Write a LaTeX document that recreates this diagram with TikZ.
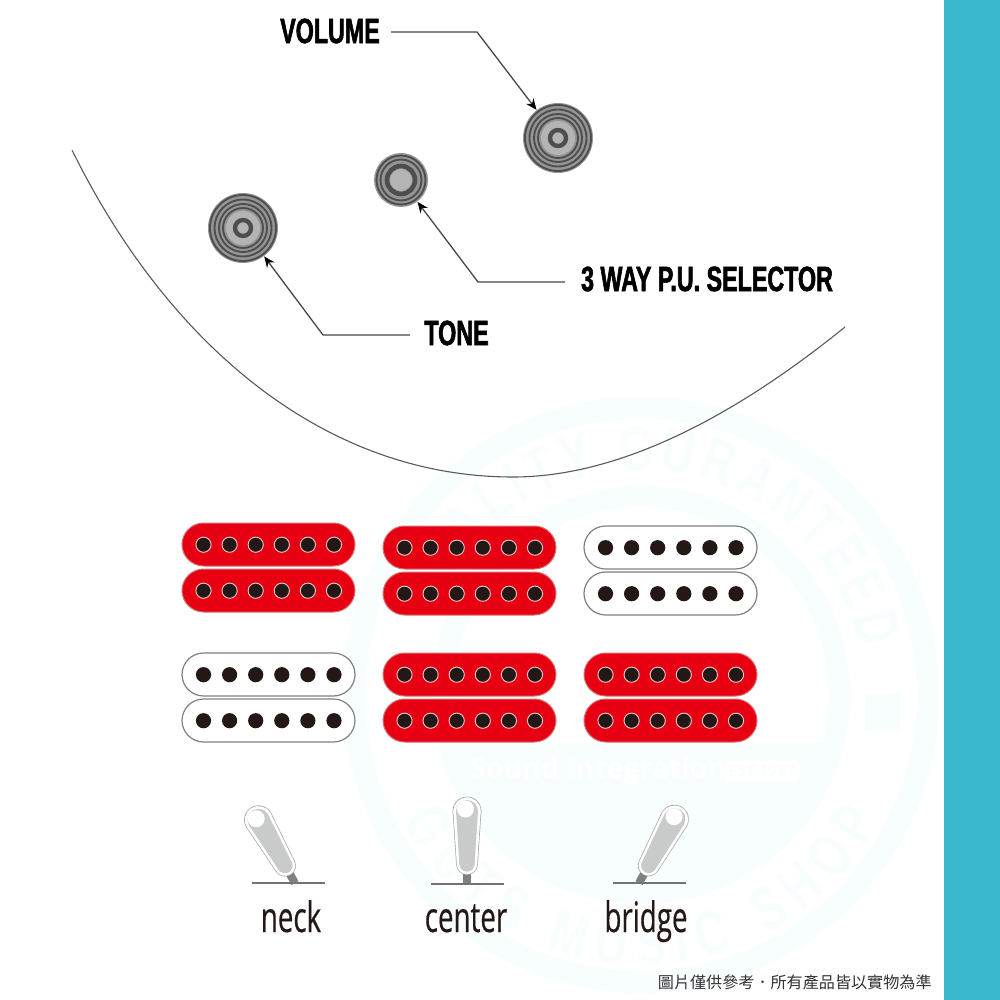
\documentclass[tikz,border=0pt]{standalone}
\usepackage{fontspec}
\usetikzlibrary{arrows.meta,decorations.text}
\newfontfamily\labfont[FakeBold=1.6,FakeStretch=0.665]{Liberation Sans Bold}
\newfontfamily\posfont[FakeBold=0.4,FakeStretch=0.66]{Open Sans}
\newfontfamily\cjkfont{Noto Sans CJK TC}
\newfontfamily\wmfont[FakeStretch=0.72]{Liberation Sans Bold}
\newfontfamily\wmsub{Open Sans}
\definecolor{bar}{HTML}{3CB8CC}
\definecolor{wm}{HTML}{F8FDFE}
\definecolor{pred}{HTML}{E60012}
\definecolor{ink}{HTML}{231815}
\definecolor{knobbase}{HTML}{959595}
\definecolor{knobring}{HTML}{4E4E4E}
\definecolor{knoblight}{HTML}{B4B4B4}
\definecolor{leverg}{HTML}{C9CACA}
\tikzset{
  knobnode/.style={circle,inner sep=0pt,minimum size=#1*0.5pt,fill=knobbase},
  ring/.style={draw=knobring,line width=#1*0.5pt},
  leader/.style={draw=black!72,line width=0.65pt,-{Stealth[length=5.5pt,width=4.6pt,black]}},
  calllabel/.style={font=\labfont\fontsize{17.5}{18}\selectfont,text=black,inner sep=0pt},
  poslabel/.style={font=\posfont\fontsize{21}{22}\selectfont,text=ink,inner sep=0pt,anchor=base},
  redcoil/.style={fill=pred,draw=black!30!red!55!white,line width=0.5pt,rounded corners=10.8pt},
  whitecoil/.style={fill=white,draw=black!50,line width=0.6pt,rounded corners=10.8pt},
  redpole/.style={fill=ink,draw=white!80!red,line width=0.45pt},
  whitepole/.style={fill=ink},
  body/.style={draw=black!65,line width=0.55pt},
  baseline/.style={draw=black!55,line width=0.6pt},
}
\newcommand{\pickupcoil}[5]{%
  \draw[#4] (#1,#2) rectangle ++(173,43);
  \foreach \k in {0,...,5}
    \path[#5] ({#1+21.5+\k*26.1},{#2+21.7}) circle (7.6);
}
\newcommand{\taper}[3]{%
  \fill[#3] (0,-73) circle (#1) (0,-20) circle (#2);
  \fill[#3] (-#1,-73) -- (#1,-73) -- (#2,-20) -- (-#2,-20) -- cycle;
}
\newcommand{\toggleswitch}[3]{%
  \begin{scope}[shift={(#1,#2)},rotate=#3]
    \fill[black!50] (-4,0) rectangle (4,-14);
    \taper{14.4}{10.9}{black!35}
    \taper{13.7}{10.2}{white}
    \taper{11}{7.6}{leverg}
    \fill[white] (-1.5,-75) circle (8.5);
  \end{scope}%
}
\begin{document}
\begin{tikzpicture}[x=0.5pt,y=-0.5pt]
\useasboundingbox (0,0) rectangle (1000,1000);
\fill[white] (0,0) rectangle (1000,1000);
% watermark
\begin{scope}
  \fill[wm,even odd rule] (641,695) circle (298) (641,695) circle (276);
  \fill[wm,even odd rule] (641,695) circle (209) (641,695) circle (188);
  \clip (0,743) rectangle (1000,1000);
  \fill[wm] (641,695) circle (188);
\end{scope}
\fill[wm] (865,693) rectangle (900,730);
\node[inner sep=0pt,anchor=west,text=white,font=\wmsub\bfseries\fontsize{14.2}{16}\selectfont] (wmsound) at (470,771) {Sound Integration};
\node[inner sep=0pt,fill=white,rounded corners=2pt,minimum width=37pt,minimum height=10.5pt,text=wm,font=\wmsub\bfseries\fontsize{8}{9}\selectfont] (wmest) at (762,771) {EST.1987};
\begin{scope}[x=0.5pt,y=0.5pt,shift={(641,-695)}]
  \path[decorate,decoration={text along path,text align={fit to path},
    text={|\wmfont\fontsize{31}{31}\selectfont\color{wm}|QUALITY GURANTEED}}]
    (160:225) arc (160:12:225);
  \path[decorate,decoration={text along path,text align={fit to path},
    text={|\wmfont\fontsize{31}{31}\selectfont\color{wm}|GUTS MUSIC SHOP}}]
    (208:270) arc (208:332:270);
\end{scope}
% side bar
\fill[bar] (944,0) rectangle (1000,1000);
% guitar body edge
\draw[body] (72,150) .. controls (167,343) and (323,477) .. (513,477)
  .. controls (620,477) and (735,416) .. (845,327);
% knobs
\node[knobnode=70] (volk) at (558,138) {};
\node[knobnode=54] (selk) at (401,180) {};
\node[knobnode=70] (tonek) at (243,228) {};
\foreach \cx/\cy in {558/138,243/228}{
  \foreach \r in {33,28.5,24,20} \draw[ring=1.9] (\cx,\cy) circle (\r);
  \fill[knoblight] (\cx,\cy) circle (17);
  \draw[ring=4.4] (\cx,\cy) circle (8);
}
\foreach \r in {24.5,20.5} \draw[ring=1.9] (401,180) circle (\r);
\draw[ring=4.6] (401,180) circle (14);
\fill[knoblight] (401,180) circle (11);
% labels and leaders
\node[calllabel] (vol) at (330,31) {VOLUME};
\node[calllabel] (sel) at (707,279) {3 WAY P.U. SELECTOR};
\node[calllabel] (ton) at (456.5,333) {TONE};
\coordinate (volstart) at (391,32);
\coordinate (volcorner) at (477,32);
\coordinate (selstart) at (565,282);
\coordinate (selcorner) at (478,282);
\coordinate (tonstart) at (410,335);
\coordinate (toncorner) at (323,335);
\draw[leader] (volstart) -- (volcorner) -- (volk);
\draw[leader] (selstart) -- (selcorner) -- (selk);
\draw[leader] (tonstart) -- (toncorner) -- (tonek);
% pickups
\pickupcoil{182}{523}{}{redcoil}{redpole}
\pickupcoil{182}{569}{}{redcoil}{redpole}
\pickupcoil{383}{526}{}{redcoil}{redpole}
\pickupcoil{383}{572}{}{redcoil}{redpole}
\pickupcoil{584}{526}{}{whitecoil}{whitepole}
\pickupcoil{584}{572}{}{whitecoil}{whitepole}
\pickupcoil{182}{653}{}{whitecoil}{whitepole}
\pickupcoil{182}{699}{}{whitecoil}{whitepole}
\pickupcoil{383}{653}{}{redcoil}{redpole}
\pickupcoil{383}{699}{}{redcoil}{redpole}
\pickupcoil{584}{653}{}{redcoil}{redpole}
\pickupcoil{584}{699}{}{redcoil}{redpole}
% switches
\toggleswitch{295}{883}{30}
\toggleswitch{467}{884}{0}
\toggleswitch{639}{883}{-29}
\draw[baseline] (252,883) -- (325,883);
\draw[baseline] (431,884) -- (504,884);
\draw[baseline] (613,883) -- (686,883);
\node[poslabel] (neck) at (291,932) {neck};
\node[poslabel] (center) at (466,932) {center};
\node[poslabel] (bridge) at (646,932) {bridge};
% caption
\node[inner sep=0pt,anchor=east,text=black!80,font=\cjkfont\fontsize{8.05}{9}\selectfont] (cap) at (932,982) {圖片僅供參考．所有產品皆以實物為準};
\end{tikzpicture}
\end{document}
